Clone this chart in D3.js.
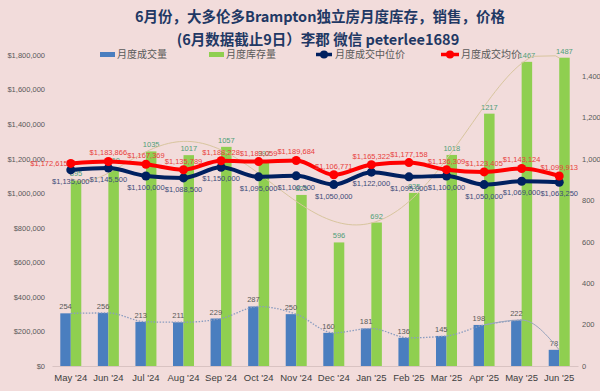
<!DOCTYPE html>
<html><head><meta charset="utf-8">
<script src="https://cdn.jsdelivr.net/npm/d3@7"></script>
<style>
html,body{margin:0;padding:0;background:#f2dcdb;}
svg{display:block;}
</style></head>
<body>
<svg id="c" width="600" height="391"></svg>
<script>
const categories = ["May '24","Jun '24","Jul '24","Aug '24","Sep '24","Oct '24","Nov '24","Dec '24","Jan '25","Feb '25","Mar '25","Apr '25","May '25","Jun '25"];
const sales = [254,256,213,211,229,287,250,160,181,136,145,198,222,78];
const inventory = [895,960,1035,1017,1057,992,825,596,692,835,1018,1217,1467,1487];
const medianPrice = [1135000,1145500,1100000,1088500,1150000,1095000,1100500,1050000,1122000,1095000,1100000,1050000,1069000,1063250];
const avgPrice = [1172615,1183866,1167369,1135789,1188228,1183059,1189684,1106771,1165322,1177158,1136309,1123405,1143124,1099913];
const leftTicks = [0,200000,400000,600000,800000,1000000,1200000,1400000,1600000,1800000];
const rightTicks = [0,200,400,600,800,1000,1200,1400];
const titleLines = ["6月份，大多伦多Brampton独立房月度库存，销售，价格","(6月数据截止9日）李郡  微信 peterlee1689"];
const legendLabels = ["月度成交量","月度库存量","月度成交中位价","月度成交均价"];

const svg = d3.select("#c");
const NUM = "'Liberation Sans',Arial,sans-serif";
const CJK = "'Noto Sans CJK SC','Noto Sans',sans-serif";
const VS = 7.5;

svg.append("rect").attr("width",600).attr("height",391).attr("fill","#f2dcdb");

const x = d3.scaleBand().domain(categories).range([52,578]);
const yL = d3.scaleLinear().domain([0,1800000]).range([366,55]);
const yR = d3.scaleLinear().domain([0,1500]).range([366,55]);
const cx = d => x(d) + x.bandwidth()/2;
const bw = 10.5;

// title
svg.append("text").attr("x",320).attr("y",22).attr("text-anchor","middle")
  .attr("font-family",CJK).attr("font-weight","bold").attr("font-size",14.5).attr("fill","#1f3864").text(titleLines[0]);
svg.append("text").attr("x",318).attr("y",45).attr("text-anchor","middle")
  .attr("font-family",CJK).attr("font-weight","bold").attr("font-size",14.5).attr("fill","#1f3864").text(titleLines[1]);

// axes
const fmt = d => "$" + d3.format(",")(d);
const gl = svg.append("g").attr("transform","translate(46,0)")
  .call(d3.axisLeft(yL).tickValues(leftTicks).tickFormat(fmt).tickSize(0).tickPadding(1));
gl.select(".domain").remove();
gl.selectAll("text").attr("font-family",NUM).attr("font-size",VS).attr("fill","#595959");

const gr = svg.append("g").attr("transform","translate(580,0)")
  .call(d3.axisRight(yR).tickValues(rightTicks).tickSize(0).tickPadding(2));
gr.select(".domain").remove();
gr.selectAll("text").attr("font-family",NUM).attr("font-size",VS).attr("fill","#595959");

const gx = svg.append("g").attr("transform","translate(0,366)")
  .call(d3.axisBottom(x).tickSize(0).tickPadding(8));
gx.select(".domain").attr("stroke","#d9c3c2");
gx.selectAll("text").attr("font-family","'Liberation Sans',Arial,sans-serif").attr("font-size",9.5).attr("fill","#404040");

// bars
svg.append("g").selectAll("rect").data(categories).join("rect")
  .attr("x",d=>cx(d)-bw).attr("width",bw)
  .attr("y",(d,i)=>yR(sales[i])).attr("height",(d,i)=>yR(0)-yR(sales[i]))
  .attr("fill","#4a7ebf");
svg.append("g").selectAll("rect").data(categories).join("rect")
  .attr("x",d=>cx(d)).attr("width",bw)
  .attr("y",(d,i)=>yR(inventory[i])).attr("height",(d,i)=>yR(0)-yR(inventory[i]))
  .attr("fill","#8fcf50");

// bar labels
svg.append("g").selectAll("text").data(categories).join("text")
  .attr("x",d=>cx(d)-bw/2).attr("y",(d,i)=>yR(sales[i])-4)
  .attr("text-anchor","middle").attr("font-family",NUM).attr("font-size",VS).attr("fill","#595959")
  .text((d,i)=>sales[i]);
svg.append("g").selectAll("text").data(categories).join("text")
  .attr("x",d=>cx(d)+bw/2).attr("y",(d,i)=>yR(inventory[i])-4)
  .attr("text-anchor","middle").attr("font-family",NUM).attr("font-size",VS).attr("fill","#4f9f78")
  .text((d,i)=>inventory[i]);

// polynomial trendline for inventory (least squares, derived from data)
function polyFit(ys, deg){
  const n = ys.length, m = deg+1;
  const xs = ys.map((_,i)=>i/(n-1));
  const A = Array.from({length:m},()=>new Array(m+1).fill(0));
  for(let r=0;r<m;r++){
    for(let c=0;c<m;c++){let s=0;for(let i=0;i<n;i++) s+=Math.pow(xs[i],r+c);A[r][c]=s;}
    let s=0;for(let i=0;i<n;i++) s+=ys[i]*Math.pow(xs[i],r);A[r][m]=s;
  }
  for(let p=0;p<m;p++){
    let mx=p;for(let r=p+1;r<m;r++) if(Math.abs(A[r][p])>Math.abs(A[mx][p])) mx=r;
    [A[p],A[mx]]=[A[mx],A[p]];
    for(let r=0;r<m;r++){ if(r===p) continue; const f=A[r][p]/A[p][p]; for(let c=p;c<=m;c++) A[r][c]-=f*A[p][c]; }
  }
  return A.map((row,i)=>row[m]/row[i]);
}
const coef = polyFit(inventory,6);
const evalP = t => coef.reduce((s,c,k)=>s+c*Math.pow(t/13,k),0);
const trendPts = d3.range(0,13.001,0.1).map(t=>[t, evalP(t)]).filter(p=>p[1]<=1500);
const tx = t => cx(categories[0]) + t*x.step();
svg.append("path").attr("d",d3.line().x(p=>tx(p[0])).y(p=>yR(p[1]))(trendPts))
  .attr("fill","none").attr("stroke","#d8c59e").attr("stroke-width",1);

// sales smoothed dotted line
const salesPts = categories.map((c,i)=>[cx(c), yR(sales[i])]);
svg.append("path").attr("d",d3.line().curve(d3.curveMonotoneX)(salesPts.slice(0,13)))
  .attr("fill","none").attr("stroke","#8a9cc0").attr("stroke-width",1.3).attr("stroke-dasharray","1.5,1.5");
svg.append("path").attr("d",d3.line().curve(d3.curveMonotoneX)(salesPts.slice(11)))
  .attr("fill","none").attr("stroke","#9aa5bd").attr("stroke-width",1);

// price lines
const lineL = arr => d3.line().curve(d3.curveMonotoneX).x((d,i)=>cx(categories[i])).y(d=>yL(d))(arr);
svg.append("path").attr("d",lineL(medianPrice)).attr("fill","none").attr("stroke","#002060").attr("stroke-width",4);
svg.append("g").selectAll("circle").data(medianPrice).join("circle")
  .attr("cx",(d,i)=>cx(categories[i])).attr("cy",d=>yL(d)).attr("r",4.5).attr("fill","#002060");
svg.append("path").attr("d",lineL(avgPrice)).attr("fill","none").attr("stroke","#ff0000").attr("stroke-width",4);
svg.append("g").selectAll("circle").data(avgPrice).join("circle")
  .attr("cx",(d,i)=>cx(categories[i])).attr("cy",d=>yL(d)).attr("r",4.5).attr("fill","#ff0000");

// price labels
svg.append("g").selectAll("text").data(medianPrice).join("text")
  .attr("x",(d,i)=>cx(categories[i])).attr("y",d=>yL(d)+14)
  .attr("text-anchor","middle").attr("font-family",NUM).attr("font-size",VS).attr("fill","#3b4a78")
  .text(d=>fmt(d));
svg.append("g").selectAll("text").data(avgPrice).join("text")
  .attr("x",(d,i)=> i===0 ? cx(categories[i])-3 : cx(categories[i]))
  .attr("y",(d,i)=> i===0 ? yL(d)+3 : yL(d)-6)
  .attr("text-anchor",(d,i)=> i===0 ? "end" : "middle")
  .attr("font-family",NUM).attr("font-size",VS).attr("fill","#e8403c")
  .text(d=>fmt(d));

// legend
const lg = svg.append("g").attr("font-family",CJK).attr("font-size",10).attr("fill","#595959");
lg.append("rect").attr("x",100).attr("y",52).attr("width",15).attr("height",5).attr("fill","#4a7ebf");
lg.append("text").attr("x",117).attr("y",58).text(legendLabels[0]);
lg.append("rect").attr("x",209).attr("y",52).attr("width",15).attr("height",5).attr("fill","#8fcf50");
lg.append("text").attr("x",226).attr("y",58).text(legendLabels[1]);
lg.append("line").attr("x1",316).attr("x2",332).attr("y1",54.5).attr("y2",54.5).attr("stroke","#002060").attr("stroke-width",3.5);
lg.append("circle").attr("cx",324).attr("cy",54.5).attr("r",4).attr("fill","#002060");
lg.append("text").attr("x",335).attr("y",58).text(legendLabels[2]);
lg.append("line").attr("x1",441).attr("x2",459).attr("y1",54.5).attr("y2",54.5).attr("stroke","#ff0000").attr("stroke-width",3.5);
lg.append("circle").attr("cx",450).attr("cy",54.5).attr("r",4).attr("fill","#ff0000");
lg.append("text").attr("x",461).attr("y",58).text(legendLabels[3]);
</script>
</body></html>
